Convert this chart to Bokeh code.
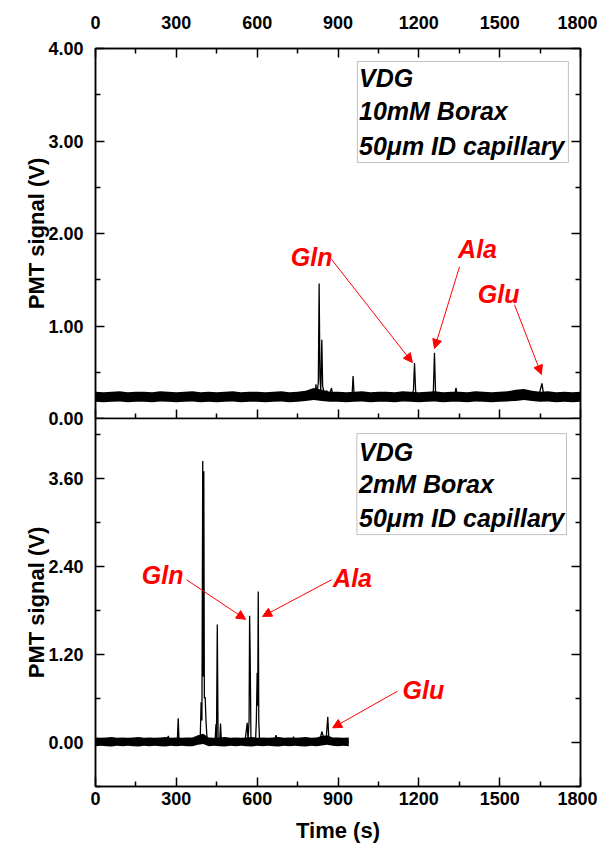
from bokeh.plotting import figure
from bokeh.models import (Range1d, LinearAxis, FixedTicker, PrintfTickFormatter,
                          CustomJSTickFormatter, Arrow, NormalHead, BoxAnnotation,
                          ColumnDataSource)
from bokeh.layouts import column
from bokeh.core.properties import value
from bokeh.embed import file_html
from bokeh.resources import INLINE

FONT = "Liberation Sans"

# ---------------- data: top panel (10 mM Borax) ----------------
top_t = [0, 805, 812, 815, 818, 822, 827, 830, 833, 836, 840, 843, 847, 850, 858, 862,
         870, 876, 880, 890, 952, 956, 960, 1150, 1160, 1170, 1180, 1184, 1188, 1193,
         1200, 1248, 1254, 1258, 1262, 1268, 1332, 1338, 1343, 1540, 1560, 1575, 1590,
         1640, 1650, 1657, 1662, 1670, 1800]
top_v = [0.235, 0.235, 0.30, 0.24, 0.37, 0.25, 0.40, 1.46, 0.45, 0.30, 0.85, 0.35, 0.30,
         0.27, 0.30, 0.26, 0.28, 0.33, 0.25, 0.235, 0.24, 0.46, 0.24, 0.24, 0.28, 0.25,
         0.30, 0.60, 0.30, 0.22, 0.235, 0.24, 0.30, 0.71, 0.28, 0.235, 0.24, 0.33, 0.24,
         0.24, 0.28, 0.29, 0.25, 0.24, 0.30, 0.38, 0.28, 0.24, 0.235]
top_band_t = list(range(0, 1801, 30))
top_band_lo = [0.18, 0.175, 0.18, 0.185, 0.175, 0.18, 0.18, 0.175, 0.185, 0.18,
               0.175, 0.18, 0.185, 0.175, 0.18, 0.175, 0.18, 0.185, 0.175, 0.18,
               0.18, 0.175, 0.18, 0.185, 0.175, 0.18, 0.19, 0.20, 0.19, 0.18,
               0.18, 0.175, 0.18, 0.185, 0.175, 0.18, 0.18, 0.175, 0.185, 0.18,
               0.175, 0.18, 0.185, 0.175, 0.18, 0.18, 0.175, 0.185, 0.18, 0.175,
               0.18, 0.185, 0.19, 0.20, 0.19, 0.18, 0.185, 0.175, 0.18, 0.175,
               0.18]
top_band_hi = [0.29, 0.285, 0.29, 0.295, 0.285, 0.29, 0.29, 0.285, 0.295, 0.29,
               0.285, 0.29, 0.295, 0.285, 0.29, 0.285, 0.29, 0.295, 0.285, 0.29,
               0.29, 0.285, 0.29, 0.295, 0.285, 0.29, 0.30, 0.33, 0.31, 0.29,
               0.29, 0.285, 0.29, 0.295, 0.285, 0.29, 0.29, 0.285, 0.295, 0.29,
               0.285, 0.29, 0.295, 0.285, 0.29, 0.29, 0.285, 0.295, 0.29, 0.285,
               0.29, 0.295, 0.31, 0.32, 0.30, 0.29, 0.295, 0.285, 0.29, 0.285,
               0.29]

# ---------------- data: bottom panel (2 mM Borax) ----------------
bot_t = [0, 265, 270, 275, 300, 304, 307, 310, 385, 389, 392, 395, 398, 400, 402, 404,
         407, 410, 414, 418, 444, 447, 449, 452, 455, 461, 464, 467, 555, 563, 566, 570,
         572, 574, 577, 594, 597, 600, 602, 604, 606, 609, 665, 670, 676, 730, 735, 740,
         832, 840, 848, 856, 862, 866, 872, 940]
bot_v = [0.01, 0.01, 0.09, 0.01, 0.01, 0.05, 0.33, 0.02, 0.01, 0.10, 0.55, 0.30, 3.84,
         0.90, 3.70, 0.60, 0.62, 0.30, 0.05, 0.01, 0.02, 0.25, 0.05, 1.61, 0.05, 0.03,
         0.26, 0.02, 0.02, 0.27, 0.03, 0.30, 1.73, 1.20, 0.03, 0.02, 0.30, 0.95, 0.50,
         2.06, 0.30, 0.01, 0.02, 0.10, 0.02, 0.02, 0.08, 0.02, 0.02, 0.15, 0.05, 0.04,
         0.35, 0.06, 0.02, 0.01]
bot_band_t = list(range(0, 941, 20))
bot_band_lo = [-0.05, -0.045, -0.05, -0.055, -0.045, -0.05, -0.045, -0.05, -0.055, -0.045,
               -0.05, -0.045, -0.05, -0.055, -0.045, -0.05, -0.045, -0.05, -0.05, -0.03,
               -0.02, -0.05, -0.045, -0.05, -0.055, -0.045, -0.05, -0.045, -0.05, -0.055,
               -0.045, -0.05, -0.045, -0.05, -0.055, -0.045, -0.05, -0.045, -0.05, -0.055,
               -0.045, -0.05, -0.04, -0.03, -0.045, -0.05, -0.045, -0.05]
bot_band_hi = [0.07, 0.065, 0.07, 0.075, 0.065, 0.07, 0.065, 0.07, 0.075, 0.065,
               0.07, 0.065, 0.07, 0.075, 0.065, 0.07, 0.065, 0.07, 0.07, 0.10,
               0.12, 0.07, 0.065, 0.07, 0.075, 0.065, 0.07, 0.065, 0.07, 0.075,
               0.065, 0.07, 0.065, 0.07, 0.075, 0.065, 0.07, 0.065, 0.07, 0.075,
               0.065, 0.07, 0.09, 0.10, 0.07, 0.07, 0.065, 0.07]

# ---------------- ticks / labels ----------------
x_major = [0, 300, 600, 900, 1200, 1500, 1800]
x_minor = [150, 450, 750, 1050, 1350, 1650]
top_y_major = [0, 1, 2, 3, 4]
top_y_minor = [0.5, 1.5, 2.5, 3.5]
bot_y_major = [0, 1.2, 2.4, 3.6]
bot_y_minor = [-0.6, 0.6, 1.8, 3.0, 4.2]

peak_names = ["Gln", "Ala", "Glu"]
top_legend = ["VDG", "10mM Borax", "50\u03bcm ID capillary"]
bot_legend = ["VDG", "2mM Borax", "50\u03bcm ID capillary"]

# annotation anchors (data coordinates)
top_lab_x, top_lab_y = [802, 1418, 1496], [1.75, 1.83, 1.35]
top_arr = dict(xs=[876, 1351, 1555], ys=[1.72, 1.64, 1.23],
               xe=[1176, 1258, 1655], ye=[0.605, 0.757, 0.476])
bot_lab_x, bot_lab_y = [249, 954, 1217], [2.28, 2.25, 0.72]
bot_arr = dict(xs=[338, 876, 1121], ys=[2.22, 2.22, 0.70],
               xe=[557, 620, 880], ye=[1.68, 1.72, 0.20])


def make_fig(height, yr, btop, bbot):
    p = figure(width=597, height=height, x_range=Range1d(0, 1800), y_range=Range1d(*yr),
               output_backend="svg", toolbar_location=None,
               x_axis_location=None, y_axis_location=None,
               min_border_left=95, min_border_right=17,
               min_border_top=btop, min_border_bottom=bbot)
    p.xgrid.grid_line_color = None
    p.ygrid.grid_line_color = None
    p.outline_line_color = "black"
    p.outline_line_width = 1.5
    return p


def add_axis(p, side, ticks, minor, labels=True, fmt="%.2f", standoff=10, title=None,
             title_standoff=4):
    ax = LinearAxis(ticker=FixedTicker(ticks=ticks, minor_ticks=minor))
    ax.axis_line_color = "black"
    ax.axis_line_width = 1.5
    ax.major_tick_in = 9
    ax.major_tick_out = 0
    ax.minor_tick_in = 5
    ax.minor_tick_out = 0
    ax.major_tick_line_width = 1.5
    ax.minor_tick_line_width = 1.5
    ax.major_label_text_font = FONT
    ax.major_label_text_font_style = "bold"
    ax.major_label_text_color = "black"
    if labels:
        ax.formatter = PrintfTickFormatter(format=fmt)
        ax.major_label_text_font_size = "18px"
        ax.major_label_standoff = standoff
    else:
        ax.formatter = CustomJSTickFormatter(code="return ''")
        ax.major_label_text_font_size = "1px"
        ax.major_label_standoff = 0
    if title:
        ax.axis_label = title
        ax.axis_label_text_font = FONT
        ax.axis_label_text_font_style = "bold"
        ax.axis_label_text_font_size = "22px"
        ax.axis_label_text_color = "black"
        ax.axis_label_standoff = title_standoff
    p.add_layout(ax, side)
    return ax


def annotate(p, lab_x, lab_y, arr, legend, leg_y, box):
    p.text(x=lab_x, y=lab_y, text=peak_names, text_font=value(FONT),
           text_font_style="bold italic", text_font_size="25px", text_color="red",
           text_align="center", text_baseline="middle")
    src = ColumnDataSource(arr)
    p.add_layout(Arrow(source=src, x_start="xs", y_start="ys", x_end="xe", y_end="ye",
                       line_color="red", line_width=1,
                       end=NormalHead(size=9, fill_color="red", line_color="red",
                                      line_width=1)))
    p.add_layout(BoxAnnotation(left=box[0], right=box[1], top=box[2], bottom=box[3],
                               fill_color=None, line_color="#333333", line_width=1))
    p.text(x=[978] * len(legend), y=leg_y, text=legend, text_font=value(FONT),
           text_font_style="bold italic", text_font_size="25px", text_color="black",
           text_align="left", text_baseline="middle")


# ---------------- top figure ----------------
p1 = make_fig(430, (0, 4), 48, 12)
add_axis(p1, "above", x_major, x_minor, fmt="%d", standoff=20)
add_axis(p1, "below", x_major, x_minor, labels=False)
add_axis(p1, "left", top_y_major, top_y_minor, standoff=12, title="PMT signal (V)",
         title_standoff=-4)
add_axis(p1, "right", top_y_major, top_y_minor, labels=False)
p1.varea(x=top_band_t, y1=top_band_lo, y2=top_band_hi, color="black")
p1.line(top_t, top_v, line_color="black", line_width=1.3)
annotate(p1, top_lab_x, top_lab_y, top_arr, top_legend, [3.686, 3.319, 2.951],
         (972, 1755, 3.859, 2.768))

# ---------------- bottom figure ----------------
p2 = make_fig(430, (-0.6, 4.42), 0, 62)
p2.border_fill_color = None
p2.margin = (-12, 0, 0, 0)
add_axis(p2, "below", x_major, x_minor, fmt="%d", standoff=5, title="Time (s)",
         title_standoff=10)
add_axis(p2, "left", bot_y_major, bot_y_minor, standoff=12, title="PMT signal (V)",
         title_standoff=-4)
add_axis(p2, "right", bot_y_major, bot_y_minor, labels=False)
p2.varea(x=bot_band_t, y1=bot_band_lo, y2=bot_band_hi, color="black")
p2.line(bot_t, bot_v, line_color="black", line_width=1.3)
annotate(p2, bot_lab_x, bot_lab_y, bot_arr, bot_legend, [3.968, 3.532, 3.068],
         (970, 1748, 4.214, 2.836))

layout = column(p1, p2, spacing=0)
open("out.html", "w").write(file_html(layout, INLINE))
